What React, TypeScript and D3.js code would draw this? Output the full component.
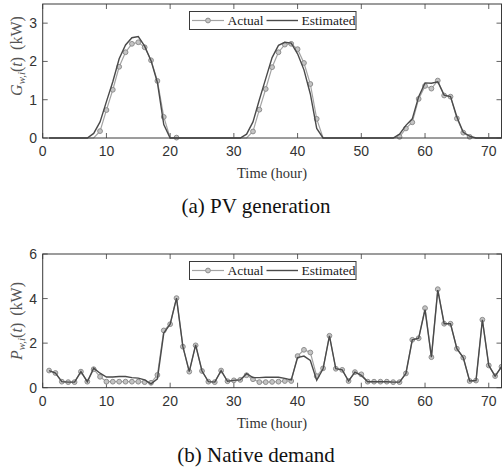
import React from "react";
import * as d3 from "d3";

const hours: number[] = d3.range(1, 73);

const pvActual: number[] = [
  0, 0, 0, 0, 0, 0, 0, 0, 0.18, 0.73, 1.26, 1.86, 2.24, 2.46, 2.5, 2.37, 2.03, 1.49, 0.55, 0, 0.01, 0, 0, 0,
  0, 0, 0, 0, 0, 0, 0, 0, 0.17, 0.74, 1.28, 1.85, 2.24, 2.44, 2.46, 2.32, 1.96, 1.41, 0.5, 0, 0, 0, 0, 0,
  0, 0, 0, 0, 0, 0, 0, 0.03, 0.25, 0.41, 1.02, 1.36, 1.29, 1.5, 1.11, 1.08, 0.51, 0.14, 0.03, 0, 0, 0, 0, 0,
];
const pvEstimated: number[] = [
  0, 0, 0, 0, 0, 0, 0, 0.12, 0.42, 0.95, 1.47, 2.07, 2.43, 2.62, 2.65, 2.4, 2.02, 1.45, 0.35, 0, 0, 0, 0, 0,
  0, 0, 0, 0, 0, 0, 0, 0.1, 0.42, 1.0, 1.55, 2.1, 2.42, 2.5, 2.48, 2.2, 1.78, 1.15, 0.25, 0, 0, 0, 0, 0,
  0, 0, 0, 0, 0, 0, 0, 0.1, 0.33, 0.5, 1.08, 1.44, 1.43, 1.47, 1.12, 1.08, 0.55, 0.15, 0.05, 0, 0, 0, 0, 0,
];
const demandActual: number[] = [
  0.77, 0.66, 0.27, 0.25, 0.25, 0.72, 0.27, 0.83, 0.49, 0.27, 0.27, 0.27, 0.27, 0.27, 0.27, 0.25, 0.22, 0.57, 2.57, 2.85, 4.02, 1.84, 0.72, 1.9,
  0.75, 0.27, 0.25, 0.77, 0.29, 0.33, 0.35, 0.56, 0.38, 0.25, 0.25, 0.26, 0.27, 0.3, 0.3, 1.42, 1.7, 1.58, 0.52, 0.87, 2.33, 0.85, 0.8, 0.3,
  0.7, 0.6, 0.27, 0.27, 0.27, 0.27, 0.25, 0.25, 0.64, 2.15, 2.22, 3.57, 1.37, 4.42, 2.87, 2.87, 1.75, 1.35, 0.3, 0.32, 3.05, 1.0, 0.52, 0.94,
];
const demandEstimated: number[] = [
  0.77, 0.66, 0.27, 0.25, 0.25, 0.72, 0.27, 0.88, 0.65, 0.48, 0.48, 0.5, 0.5, 0.45, 0.43, 0.35, 0.17, 0.4, 2.45, 2.85, 4.02, 1.84, 0.72, 1.92,
  0.75, 0.27, 0.25, 0.77, 0.29, 0.33, 0.35, 0.63, 0.45, 0.45, 0.47, 0.47, 0.47, 0.42, 0.35, 1.35, 1.42, 1.22, 0.33, 0.85, 2.33, 0.85, 0.8, 0.3,
  0.7, 0.55, 0.27, 0.27, 0.27, 0.27, 0.25, 0.25, 0.64, 2.15, 2.22, 3.5, 1.37, 4.38, 2.87, 2.87, 1.75, 1.35, 0.3, 0.32, 3.05, 1.0, 0.52, 0.94,
];

const xTicks: number[] = [0, 10, 20, 30, 40, 50, 60, 70];
const pvYTicks: number[] = [0, 1, 2, 3];
const demandYTicks: number[] = [0, 2, 4, 6];
const legendLabels: string[] = ["Actual", "Estimated"];
const xLabel = "Time (hour)";
const titles: string[] = ["(a) PV generation", "(b) Native demand"];

const W = 502;
const H = 469;
const LEFT = 42.7;
const RIGHT = 501.5;

const AXIS = "#3a3a3a";
const TEXT = "#333333";
const ACTUAL = "#a3a3a3";
const MARKER_FILL = "#c4c4c4";
const MARKER_STROKE = "#8e8e8e";
const EST = "#4a4a4a";
const SERIF = "'Liberation Serif', 'Times New Roman', serif";
const SANS = "'Liberation Sans', Arial, sans-serif";

type PanelProps = {
  top: number;
  bottom: number;
  yMax: number;
  yTicks: number[];
  actual: number[];
  estimated: number[];
  hideZeroMarkers: boolean;
  ySym: string;
  labelCenter: number;
  title: string;
  tickY: number;
  xLabelY: number;
  titleY: number;
};

function Panel(p: PanelProps) {
  const x = d3.scaleLinear().domain([0, 72]).range([LEFT, RIGHT]);
  const y = d3.scaleLinear().domain([0, p.yMax]).range([p.bottom, p.top]);
  const line = d3
    .line<number>()
    .x((_, i) => x(hours[i]))
    .y((v) => y(v));
  const tick = 5;
  const legTop = p.top + 7.5;
  const legH = 18;
  const legY = legTop + legH / 2;
  return (
    <g>
      {xTicks.map((t) => (
        <g key={"xt" + t}>
          <line x1={x(t)} x2={x(t)} y1={p.bottom} y2={p.bottom - tick} stroke={AXIS} strokeWidth={0.8} />
          <line x1={x(t)} x2={x(t)} y1={p.top} y2={p.top + tick} stroke={AXIS} strokeWidth={0.8} />
          <text x={x(t)} y={p.tickY} textAnchor="middle" dominantBaseline="central" fontFamily={SANS} fontSize={14} fill={TEXT}>
            {t}
          </text>
        </g>
      ))}
      {p.yTicks.map((t) => (
        <g key={"yt" + t}>
          <line x1={LEFT} x2={LEFT + tick} y1={y(t)} y2={y(t)} stroke={AXIS} strokeWidth={0.8} />
          <line x1={RIGHT} x2={RIGHT - tick} y1={y(t)} y2={y(t)} stroke={AXIS} strokeWidth={0.8} />
          <text x={37} y={y(t)} textAnchor="end" dominantBaseline="central" fontFamily={SANS} fontSize={14} fill={TEXT}>
            {t}
          </text>
        </g>
      ))}
      <path d={line(p.actual) || ""} fill="none" stroke={ACTUAL} strokeWidth={1.2} />
      {p.actual.map((v, i) =>
        p.hideZeroMarkers && v <= 0 ? null : (
          <circle key={"m" + i} cx={x(hours[i])} cy={y(v)} r={2.4} fill={MARKER_FILL} stroke={MARKER_STROKE} strokeWidth={1} />
        )
      )}
      <path d={line(p.estimated) || ""} fill="none" stroke={EST} strokeWidth={1.4} />
      <rect x={LEFT} y={p.top} width={RIGHT - LEFT} height={p.bottom - p.top} fill="none" stroke={AXIS} strokeWidth={1} />
      <rect x={189.5} y={legTop} width={166.5} height={legH} fill="#fff" stroke={AXIS} strokeWidth={1} />
      <line x1={192} x2={224} y1={legY} y2={legY} stroke={ACTUAL} strokeWidth={1.2} />
      <circle cx={208} cy={legY} r={2.4} fill={MARKER_FILL} stroke={MARKER_STROKE} strokeWidth={1} />
      <text x={227.5} y={legY} dominantBaseline="central" fontFamily={SERIF} fontSize={13.5} fill="#222">
        {legendLabels[0]}
      </text>
      <line x1={266.5} x2={298} y1={legY} y2={legY} stroke={EST} strokeWidth={1.4} />
      <text x={301.5} y={legY} dominantBaseline="central" fontFamily={SERIF} fontSize={13.5} fill="#222">
        {legendLabels[1]}
      </text>
      <text x={272} y={p.xLabelY} textAnchor="middle" dominantBaseline="central" fontFamily={SERIF} fontSize={14.5} fill={TEXT}>
        {xLabel}
      </text>
      <text
        transform={`translate(22, ${p.labelCenter}) rotate(-90)`}
        textAnchor="middle"
        fontFamily={SERIF}
        fontSize={16}
        fill="#555"
      >
        <tspan fontStyle="italic">{p.ySym}</tspan>
        <tspan fontStyle="italic" fontSize={11} dy={3}>w,i</tspan>
        <tspan dy={-3}>(</tspan>
        <tspan fontStyle="italic">t</tspan>
        <tspan>)</tspan>
        <tspan dx={7}>(kW)</tspan>
      </text>
      <text x={256} y={p.titleY} textAnchor="middle" dominantBaseline="central" fontFamily={SERIF} fontSize={21} fill="#111">
        {p.title}
      </text>
    </g>
  );
}

export default function App() {
  return (
    <svg width={W} height={H} style={{ position: "absolute", left: 0, top: 0, background: "#fff" }}>
      <rect x={0} y={0} width={W} height={H} fill="#fff" />
      <Panel
        top={4}
        bottom={138}
        yMax={3.5}
        yTicks={pvYTicks}
        actual={pvActual}
        estimated={pvEstimated}
        hideZeroMarkers={true}
        ySym="G"
        labelCenter={56}
        title={titles[0]}
        tickY={151}
        xLabelY={173}
        titleY={206}
      />
      <Panel
        top={254}
        bottom={387.7}
        yMax={6}
        yTicks={demandYTicks}
        actual={demandActual}
        estimated={demandEstimated}
        hideZeroMarkers={false}
        ySym="P"
        labelCenter={321}
        title={titles[1]}
        tickY={400.5}
        xLabelY={423}
        titleY={455}
      />
    </svg>
  );
}
